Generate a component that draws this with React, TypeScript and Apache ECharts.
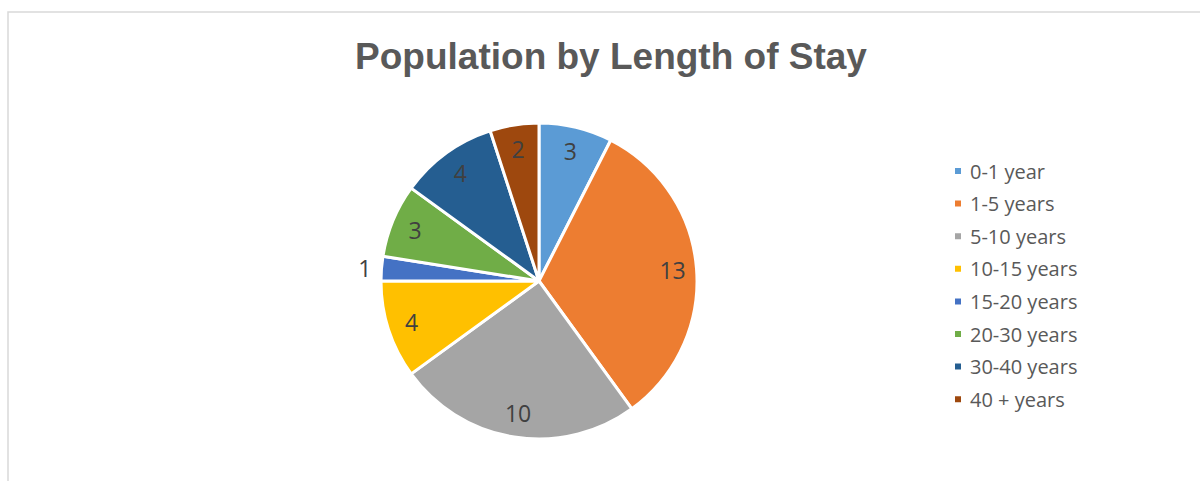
import React, { useEffect, useRef } from "react";
import * as echarts from "echarts";

const categories = ["0-1 year", "1-5 years", "5-10 years", "10-15 years", "15-20 years", "20-30 years", "30-40 years", "40 + years"];
const values = [3, 13, 10, 4, 1, 3, 4, 2];
const colors = ["#5B9BD5", "#ED7D31", "#A5A5A5", "#FFC000", "#4472C4", "#70AD47", "#255E91", "#9E480E"];
const outsideLabelCategories = ["15-20 years"];

export default function App() {
  const ref = useRef<HTMLDivElement>(null);
  useEffect(() => {
    const chart = echarts.init(ref.current!, null, { renderer: "svg" });
    const center = [539, 281];
    const R = 158;
    const labelFont = { fontFamily: "Open Sans", fontSize: 23, color: "#404040" };
    const mainData = categories.map((c, i) => ({ name: c, value: values[i], itemStyle: { color: colors[i] } }));
    const labelData = categories.map((c, i) => ({
      name: c,
      value: values[i],
      label: { show: !outsideLabelCategories.includes(c) },
    }));
    const outsideData = categories.map((c, i) => ({
      name: c,
      value: values[i],
      label: { show: outsideLabelCategories.includes(c) },
    }));
    chart.setOption({
      animation: false,
      title: {
        text: "Population by Length of Stay",
        left: 606,
        top: 33,
        textAlign: "center",
        textStyle: { fontFamily: "Liberation Sans", fontSize: 37, fontWeight: "bold", color: "#595959" },
      },
      legend: {
        orient: "vertical",
        left: 953,
        top: 161,
        padding: 0,
        itemWidth: 8,
        itemHeight: 8,
        itemGap: 12.6,
        icon: "rect",
        data: categories,
        textStyle: { fontFamily: "Open Sans", fontSize: 20, color: "#595959", lineHeight: 20, padding: [0, 0, 0, 3] },
      },
      graphic: [
        {
          type: "rect",
          shape: { x: 8, y: 12, width: 1300, height: 600 },
          style: { fill: "none", stroke: "#D9D9D9", lineWidth: 1.5 },
          silent: true,
        },
      ],
      series: [
        {
          type: "pie",
          name: "main",
          center,
          radius: [0, R],
          startAngle: 90,
          clockwise: true,
          data: mainData,
          itemStyle: { borderColor: "#FFFFFF", borderWidth: 3 },
          label: { show: false },
          labelLine: { show: false },
          emphasis: { disabled: true },
          silent: true,
        },
        {
          type: "pie",
          name: "labels",
          center,
          radius: [104, R],
          startAngle: 90,
          clockwise: true,
          data: labelData,
          itemStyle: { color: "rgba(0,0,0,0)" },
          label: { position: "inside", formatter: "{c}", ...labelFont },
          labelLine: { show: false },
          emphasis: { disabled: true },
          silent: true,
        },
        {
          type: "pie",
          name: "outside",
          center,
          radius: [0, R],
          startAngle: 90,
          clockwise: true,
          data: outsideData,
          itemStyle: { color: "rgba(0,0,0,0)" },
          label: { position: "outside", formatter: "{c}", distanceToLabelLine: 0, ...labelFont },
          labelLine: { show: false, length: 10, length2: 0 },
          emphasis: { disabled: true },
          silent: true,
        },
      ],
    });
    return () => chart.dispose();
  }, []);
  return <div ref={ref} style={{ position: "absolute", left: 0, top: 0, width: 1200, height: 481 }} />;
}
